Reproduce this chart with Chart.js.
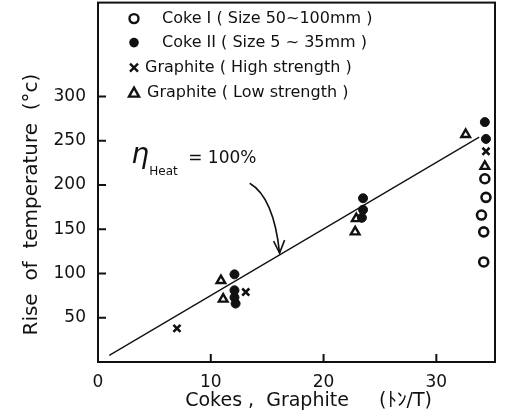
<!DOCTYPE html>
<html>
<head>
<meta charset="utf-8">
<script src="https://cdn.jsdelivr.net/npm/chart.js"></script>
<style>
  body { margin: 0; background: #fff; overflow: hidden; }
  canvas { display: block; margin-top: -5px; }
</style>
</head>
<body>
<canvas id="myChart" width="506" height="421"></canvas>
<script>
// Data
const xTicks = [0, 10, 20, 30];
const yTicks = [50, 100, 150, 200, 250, 300];

const cokeI = [
    { x: 34.3, y: 207 }, { x: 34.4, y: 186 }, { x: 34.0, y: 166 },
    { x: 34.2, y: 147 }, { x: 34.2, y: 113 }
];
const cokeII = [
    { x: 12.1, y: 99 }, { x: 12.1, y: 81 }, { x: 12.1, y: 73 }, { x: 12.2, y: 66 },
    { x: 23.5, y: 185 }, { x: 23.5, y: 172 }, { x: 23.4, y: 163 },
    { x: 34.3, y: 271 }, { x: 34.4, y: 252 }
];
const graphiteHigh = [
    { x: 7.0, y: 38 }, { x: 13.1, y: 79 }, { x: 34.4, y: 238 }
];
const graphiteLow = [
    { x: 10.9, y: 92 }, { x: 11.1, y: 71 }, { x: 22.9, y: 162 },
    { x: 22.8, y: 147 }, { x: 32.6, y: 257 }, { x: 34.3, y: 221 }
];
const heatLine = [{ x: 1, y: 7.5 }, { x: 33.8, y: 254 }];

const legendLabels = [
    'Coke I ( Size 50~100mm )',
    'Coke II ( Size 5 ~ 35mm )',
    'Graphite ( High strength )',
    'Graphite ( Low strength )'
];

const FONT = '"DejaVu Sans", sans-serif';
const ink = '#111';

// frame, inward ticks, legend and the eta annotation
const decorations = {
    id: 'decorations',
    afterDraw(chart) {
        const c = chart.ctx;
        const a = chart.chartArea;
        const xs = chart.scales.x, ys = chart.scales.y;
        c.save();
        c.strokeStyle = ink;
        c.fillStyle = ink;
        c.lineWidth = 2;
        c.strokeRect(a.left, a.top, a.right - a.left, a.bottom - a.top);

        c.beginPath();
        yTicks.forEach(v => {
            const py = ys.getPixelForValue(v);
            c.moveTo(a.left, py); c.lineTo(a.left + 8, py);
        });
        xTicks.slice(1).forEach(v => {
            const px = xs.getPixelForValue(v);
            c.moveTo(px, a.bottom); c.lineTo(px, a.bottom - 8);
        });
        c.stroke();

        // legend, placed under the top edge of the frame
        c.font = '16px ' + FONT;
        c.textBaseline = 'middle';
        const rows = [16, 40, 65, 90].map(r => a.top + r);
        const textX = [162, 162, 145, 147];
        const mx = 134;
        c.lineWidth = 2.4;
        c.beginPath(); c.arc(mx, rows[0], 4.5, 0, Math.PI * 2); c.stroke();
        c.beginPath(); c.arc(mx, rows[1], 4.8, 0, Math.PI * 2); c.fill();
        c.beginPath();
        c.moveTo(mx - 4, rows[2] - 4); c.lineTo(mx + 4, rows[2] + 4);
        c.moveTo(mx + 4, rows[2] - 4); c.lineTo(mx - 4, rows[2] + 4);
        c.stroke();
        c.beginPath();
        c.moveTo(mx, rows[3] - 5); c.lineTo(mx + 5, rows[3] + 4); c.lineTo(mx - 5, rows[3] + 4);
        c.closePath(); c.stroke();
        legendLabels.forEach((t, i) => c.fillText(t, textX[i], rows[i]));

        // eta annotation
        const ex = xs.getPixelForValue(3.3), ey = ys.getPixelForValue(232);
        c.textBaseline = 'alphabetic';
        c.font = 'italic 28px ' + FONT;
        c.fillText('η', ex - 4, ey + 6);
        c.font = '12px ' + FONT;
        c.fillText('Heat', ex + 14, ey + 18);
        c.font = '17px ' + FONT;
        c.fillText('= 100%', ex + 53, ey + 6);

        // curved arrow down to the line
        const sx = xs.getPixelForValue(13.45), sy = ys.getPixelForValue(202);
        const tx = xs.getPixelForValue(16.1), ty = ys.getPixelForValue(123);
        c.lineWidth = 1.6;
        c.beginPath();
        c.moveTo(sx, sy);
        c.quadraticCurveTo(sx + 24, sy + 14, tx, ty);
        c.stroke();
        c.beginPath();
        c.moveTo(tx - 6, ty - 12); c.lineTo(tx, ty); c.lineTo(tx + 5, ty - 13);
        c.stroke();
        c.restore();
    }
};

const ctx = document.getElementById('myChart').getContext('2d');
const myChart = new Chart(ctx, {
    type: 'scatter',
    data: {
        datasets: [
            {
                type: 'line', label: 'eta 100%', data: heatLine,
                borderColor: ink, borderWidth: 1.3, pointRadius: 0, fill: false
            },
            {
                label: legendLabels[0], data: cokeI, pointStyle: 'circle',
                pointRadius: 4.5, borderWidth: 2.6, borderColor: ink, backgroundColor: '#fff'
            },
            {
                label: legendLabels[1], data: cokeII, pointStyle: 'circle',
                pointRadius: 4.5, borderWidth: 1, borderColor: ink, backgroundColor: ink
            },
            {
                label: legendLabels[2], data: graphiteHigh, pointStyle: 'crossRot',
                pointRadius: 5, borderWidth: 2.6, borderColor: ink
            },
            {
                label: legendLabels[3], data: graphiteLow, pointStyle: 'triangle',
                pointRadius: 5, borderWidth: 2.4, borderColor: ink, backgroundColor: '#fff'
            }
        ]
    },
    options: {
        responsive: false,
        animation: false,
        layout: { padding: { left: 0, top: 3, right: 11, bottom: 0 } },
        plugins: {
            legend: { display: false },
            tooltip: { enabled: false }
        },
        scales: {
            x: {
                type: 'linear', min: 0, max: 35.2,
                afterBuildTicks: s => { s.ticks = xTicks.map(v => ({ value: v })); },
                afterFit: s => { s.height = 54; s.paddingLeft = 0; s.paddingRight = 0; },
                grid: { display: false },
                border: { display: false },
                ticks: { color: ink, font: { family: FONT, size: 17 }, padding: 2 },
                title: {
                    display: true, text: '    Cokes ,  Graphite     (ﾄﾝ/T)',
                    color: ink, font: { family: FONT, size: 19 }, padding: { top: 0 }
                }
            },
            y: {
                type: 'linear', min: 0, max: 406,
                afterBuildTicks: s => { s.ticks = yTicks.map(v => ({ value: v })); },
                afterFit: s => { s.width = 98; s.paddingTop = 0; s.paddingBottom = 0; },
                grid: { display: false },
                border: { display: false },
                ticks: { color: ink, font: { family: FONT, size: 17 }, padding: 4 },
                title: {
                    display: true, text: 'Rise  of  temperature  (°c)       ',
                    color: ink, font: { family: FONT, size: 20 }, padding: { top: 20, bottom: 0 }
                }
            }
        }
    },
    plugins: [decorations]
});
</script>
</body>
</html>
